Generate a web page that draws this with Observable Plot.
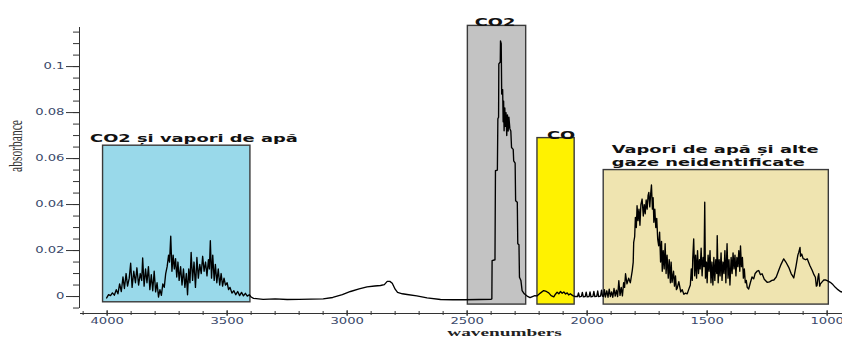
<!DOCTYPE html>
<html><head><meta charset="utf-8">
<script src="https://cdn.jsdelivr.net/npm/d3@7"></script>
<script src="https://cdn.jsdelivr.net/npm/@observablehq/plot@0.6"></script>
<style>
html,body{margin:0;padding:0;background:#fff;}
#chart svg{display:block;}
</style></head><body><div id="chart"></div>
<script>
// ---- spectrum, [wavenumber, absorbance] ----
const segWater1 = [
[4002,-0.0006],[3994,0.0008],[3986,0.0004],[3978,0.0016],[3970,0.0006],[3962,0.0030],[3955,0.0012],[3948,0.0055],
[3941,0.0022],[3934,0.0085],[3928,0.0035],[3921,0.0100],[3915,0.0045],[3908,0.0080],[3902,0.0145],[3896,0.0040],
[3889,0.0110],[3882,0.0060],[3876,0.0125],[3869,0.0050],[3862,0.0100],[3856,0.0070],[3852,0.0168],[3846,0.0045],
[3840,0.0120],[3834,0.0060],[3828,0.0130],[3822,0.0030],[3816,0.0095],[3810,0.0025],[3804,0.0110],[3798,0.0020],
[3792,0.0060],[3786,-0.0002],[3780,0.0030],[3774,0.0005],[3768,0.0055],[3762,0.0040],[3756,0.0100],[3750,0.0130],
[3744,0.0180],[3740,0.0150],[3735,0.0262],[3730,0.0110],[3725,0.0180],[3720,0.0120],[3715,0.0165],[3710,0.0085],
[3705,0.0150],[3700,0.0070],[3694,0.0130],[3688,0.0050],[3682,0.0120],[3676,0.0040],[3670,0.0100],[3665,0.0008],
[3660,0.0120],[3655,0.0060],[3650,0.0192],[3644,0.0070],[3638,0.0150],[3632,0.0040],[3626,0.0170],[3620,0.0080],
[3614,0.0140],[3608,0.0100],[3602,0.0175],[3596,0.0110],[3590,0.0150],[3584,0.0090],[3578,0.0160],[3574,0.0120],
[3570,0.0243],[3565,0.0080],[3560,0.0180],[3554,0.0070],[3549,0.0140],[3543,0.0060],[3537,0.0120],[3531,0.0050],
[3525,0.0100],[3519,0.0045],[3513,0.0080],[3507,0.0050],[3500,0.0060],[3494,0.0030],[3488,0.0040],[3480,0.0015],
[3472,0.0025],[3464,0.0008],[3456,0.0022],[3448,0.0004],[3440,0.0018],[3432,0.0003],[3424,0.0014],[3416,0.0002],
[3408,0.0008],[3400,-0.0002]
];
const segMiddle = [
[3390,-0.0008],[3350,-0.0012],[3300,-0.0010],[3250,-0.0013],[3200,-0.0012],[3150,-0.0011],[3100,-0.0010],
[3060,-0.0004],[3020,0.0008],[2986,0.0022],[2950,0.0033],[2917,0.0042],[2885,0.0046],[2861,0.0048],[2845,0.0052],
[2833,0.0066],[2822,0.0066],[2812,0.0058],[2800,0.0032],[2790,0.0018],[2770,0.0012],[2750,0.0009],[2710,0.0003],
[2667,-0.0006],[2611,-0.0013],[2560,-0.0014],[2510,-0.0014],[2450,-0.0013]
];
const segCO2 = [
[2400,-0.0012],[2397,-0.0010],[2396,0.0156],[2384,0.0160],[2382,0.0547],[2374,0.0550],[2372,0.0773],[2369,0.0780],
[2368,0.1012],[2362,0.1020],[2361,0.1112],[2358,0.1100],[2356,0.0881],[2352,0.0900],[2350,0.0760],[2348,0.0850],
[2346,0.0721],[2343,0.0820],[2341,0.0740],[2338,0.0800],[2335,0.0700],[2332,0.0790],[2329,0.0720],[2326,0.0780],
[2322,0.0730],[2318,0.0720],[2315,0.0648],[2308,0.0640],[2306,0.0590],[2300,0.0580],[2298,0.0417],[2291,0.0410],
[2289,0.0230],[2284,0.0225],[2282,0.0084],[2276,0.0070],[2271,0.0026],[2262,0.0012],[2250,0.0002],[2238,-0.0005]
];
const segCO = [
[2228,0.0000],[2218,0.0004],[2208,0.0003],[2195,0.0015],[2181,0.0026],[2170,0.0022],[2160,0.0016],[2150,0.0004],
[2139,-0.0001],[2132,0.0010],[2125,0.0019],[2118,0.0012],[2111,0.0022],[2104,0.0014],[2097,0.0020],[2090,0.0011],
[2083,0.0016],[2077,0.0007],[2070,0.0012],[2060,0.0004],[2049,0.0000],
[2040,0.0000],[2036,0.0016],[2032,-0.0001],[2024,0.0001],[2020,0.0018],[2016,-0.0001],[2008,0.0000],[2004,0.0019],
[2000,-0.0001],[1992,0.0000],[1988,0.0020],[1984,-0.0001],[1976,0.0001],[1972,0.0022],[1968,0.0000],[1960,0.0001],
[1956,0.0024],[1952,0.0000],[1944,0.0002],[1940,0.0028],[1936,0.0002]
];
const segWater2 = [
[1932,0.0000],[1928,0.0030],[1924,-0.0002],[1918,0.0025],[1913,-0.0003],[1908,0.0032],[1903,0.0000],[1898,0.0020],
[1893,-0.0003],[1888,0.0035],[1883,0.0002],[1878,0.0028],[1873,0.0000],[1868,0.0069],[1863,0.0005],[1858,0.0040],
[1853,0.0003],[1848,0.0060],[1844,0.0040],[1840,0.0099],[1834,0.0055],[1827,0.0080],[1820,0.0060],[1812,0.0113],
[1808,0.0150],[1806,0.0236],[1802,0.0260],[1799,0.0344],[1795,0.0300],[1792,0.0395],[1788,0.0330],[1784,0.0380],
[1780,0.0310],[1776,0.0400],[1771,0.0424],[1766,0.0350],[1762,0.0400],[1758,0.0360],[1754,0.0420],[1750,0.0380],
[1746,0.0440],[1743,0.0453],[1739,0.0390],[1735,0.0450],[1732,0.0485],[1728,0.0380],[1725,0.0430],[1722,0.0323],
[1718,0.0380],[1714,0.0300],[1710,0.0340],[1706,0.0250],[1702,0.0221],[1698,0.0280],[1694,0.0150],[1690,0.0240],
[1687,0.0110],[1683,0.0200],[1679,0.0120],[1675,0.0230],[1671,0.0100],[1667,0.0180],[1662,0.0080],[1658,0.0160],
[1653,0.0060],[1650,0.0150],[1646,0.0062],[1640,0.0110],[1636,0.0045],[1632,0.0090],[1628,0.0030],[1625,0.0035],
[1618,0.0065],[1610,0.0020],[1604,0.0030],[1597,0.0010],[1590,0.0015],[1583,0.0012],[1577,0.0030],[1570,0.0050],
[1566,0.0120],[1562,0.0070],[1560,0.0164],[1556,0.0251],[1552,0.0090],[1548,0.0180],[1544,0.0080],[1540,0.0200],
[1536,0.0100],[1532,0.0160],[1529,0.0120],[1525,0.0210],[1521,0.0090],[1517,0.0170],[1513,0.0130],[1510,0.0410],
[1507,0.0080],[1503,0.0150],[1500,0.0060],[1496,0.0180],[1492,0.0110],[1488,0.0200],[1484,0.0060],[1480,0.0150],
[1476,0.0050],[1472,0.0170],[1468,0.0070],[1464,0.0160],[1460,0.0100],[1458,0.0265],[1454,0.0060],[1450,0.0160],
[1446,0.0090],[1442,0.0190],[1438,0.0070],[1434,0.0150],[1430,0.0100],[1426,0.0200],[1422,0.0060],[1417,0.0230],
[1413,0.0080],[1409,0.0160],[1405,0.0050],[1400,0.0170],[1396,0.0100],[1392,0.0190],[1388,0.0120],[1384,0.0180],
[1380,0.0090],[1376,0.0170],[1372,0.0130],[1368,0.0200],[1364,0.0110],[1361,0.0220],[1357,0.0130],[1353,0.0170],
[1349,0.0080],[1345,0.0120],[1341,0.0060],[1337,0.0070],[1333,0.0040],[1327,0.0033],[1320,0.0060],[1313,0.0085],
[1306,0.0077],[1300,0.0100],[1292,0.0110],[1285,0.0113],[1278,0.0095],[1271,0.0099],[1262,0.0075],[1250,0.0062],
[1240,0.0064],[1230,0.0070],[1222,0.0072],[1212,0.0085],[1202,0.0113],[1192,0.0140],[1181,0.0164],[1172,0.0150],
[1160,0.0127],[1150,0.0100],[1139,0.0081],[1130,0.0130],[1122,0.0180],[1118,0.0193],[1113,0.0214],[1111,0.0175],
[1106,0.0185],[1100,0.0165],[1097,0.0164],[1090,0.0160],[1083,0.0164],[1072,0.0135],[1062,0.0113],[1055,0.0095],
[1049,0.0084],[1045,0.0045],[1042,0.0048],[1038,0.0085],[1035,0.0099],[1031,0.0045],[1028,0.0055],[1020,0.0065],
[1014,0.0072],[1007,0.0072],[998,0.0068],[987,0.0062],[976,0.0052],[966,0.0040],[955,0.0030],[945,0.0022],[936,0.0019]
];
const spectrum = [...segWater1, ...segMiddle, ...segCO2, ...segCO, ...segWater2];

// ---- highlighted bands ----
const boxLabel  = ["CO2 și vapori de apă", "CO2", "CO", "Vapori de apă și alte\ngaze neidentificate"];
const boxFrom   = [4017, 2497, 2207, 1931];
const boxTo     = [3403, 2254, 2052, 993];
const boxTop    = [0.0656, 0.1177, 0.0689, 0.0550];
const boxBottom = [-0.0025, -0.0035, -0.0035, -0.0035];
const boxFill   = ["#99d9ea", "#c3c3c3", "#fff200", "#efe4b0"];

// ---- axes ----
const xMajor = [4000, 3500, 3000, 2500, 2000, 1500, 1000];
const xMinor = d3.range(4100, 950, -100);
const yMajor = [0, 0.02, 0.04, 0.06, 0.08, 0.1];
const yMinor = d3.range(-0.005, 0.1151, 0.005);
const xDomain = [4111, 936];
const yDomain = [-0.0052, 0.117];
const xLabel = "wavenumbers";
const yLabel = "absorbance";

const tickColor = "#333";
const labelColor = "#3b4a6b";
const idx = d3.range(boxLabel.length);
// label placement styles per band
const labelStyle = [
  {at: "from", anchor: "start", dx: -13, dy: -4},
  {at: "mid", anchor: "middle", dx: -2, dy: 0},
  {at: "mid", anchor: "middle", dx: 5, dy: 1},
  {at: "from", anchor: "start", dx: 8, dy: -4}
];

const chart = Plot.plot({
  width: 842, height: 338,
  marginLeft: 80, marginRight: 0, marginTop: 27, marginBottom: 30,
  x: {domain: xDomain, axis: null},
  y: {domain: yDomain, axis: null},
  color: {type: "identity"},
  style: {background: "white", fontFamily: "DejaVu Sans"},
  marks: [
    Plot.rect(idx, {x1: i => boxFrom[i], x2: i => boxTo[i], y1: i => boxBottom[i], y2: i => boxTop[i],
      fill: i => boxFill[i], stroke: "#3a3a3a", strokeWidth: 1.4}),
    Plot.line(spectrum, {x: d => d[0], y: d => d[1], stroke: "#000", strokeWidth: 1.35}),
    ...idx.map(i => Plot.text([boxLabel[i]], {
      x: () => labelStyle[i].at === "mid" ? (boxFrom[i] + boxTo[i]) / 2 : boxFrom[i],
      y: () => boxTop[i],
      text: d => d, textAnchor: labelStyle[i].anchor, lineAnchor: "bottom", lineHeight: 1.2,
      dx: labelStyle[i].dx, dy: labelStyle[i].dy,
      fontFamily: "DejaVu Sans", fontWeight: "bold", fontSize: 10.5, fill: "#111"
    })),
    // axis lines
    Plot.ruleX([xDomain[0]], {dx: -1, stroke: tickColor, strokeWidth: 1}),
    Plot.ruleY([yDomain[0]], {dy: 5, stroke: tickColor, strokeWidth: 1}),
    // y ticks
    Plot.axisY(yMinor, {anchor: "left", dx: -1, tickSize: 6, tickFormat: () => "", label: null, stroke: tickColor}),
    Plot.axisY(yMajor, {anchor: "left", dx: -1, tickSize: 13, tickPadding: 2, label: null,
      tickFormat: d => String(+d.toFixed(2)), stroke: tickColor, fill: labelColor, fontSize: 8.5, fontFamily: "DejaVu Sans"}),
    // x ticks
    Plot.axisX(xMinor, {anchor: "bottom", dy: 3, tickSize: 4, tickFormat: () => "", label: null, stroke: tickColor}),
    Plot.axisX(xMajor, {anchor: "bottom", dy: 2, tickSize: 6, tickPadding: 1, label: null,
      tickFormat: d => String(d), stroke: tickColor, fill: labelColor, fontSize: 8.5, fontFamily: "DejaVu Sans"}),
    // axis titles
    Plot.text([xLabel], {frameAnchor: "bottom", dx: 43, dy: 27, lineAnchor: "bottom",
      fontFamily: "Liberation Serif", fontWeight: "bold", fontSize: 11, fill: "#222"}),
    Plot.text([yLabel], {frameAnchor: "left", dx: -65, dy: 4, rotate: -90,
      fontFamily: "Liberation Serif", fontSize: 19, fill: "#333"})
  ]
});

document.getElementById("chart").append(chart);

// the reference picture is stretched horizontally: widen the horizontal texts to match
chart.querySelectorAll("text").forEach(t => {
  const group = t.closest("g[aria-label]");
  const kind = group ? group.getAttribute("aria-label") : "";
  const isRot = t.textContent === yLabel;
  const k = /tick label/.test(kind) ? 1.55 : (t.textContent === xLabel ? 1.75 : 1.7);
  const spans = t.querySelectorAll("tspan");
  const targets = spans.length ? [...spans] : [t];
  for (const el of targets) {
    const L = el.getComputedTextLength();
    if (!L) continue;
    el.setAttribute("textLength", isRot ? 52 : L * k);
    el.setAttribute("lengthAdjust", "spacingAndGlyphs");
  }
});
</script>
</body></html>
